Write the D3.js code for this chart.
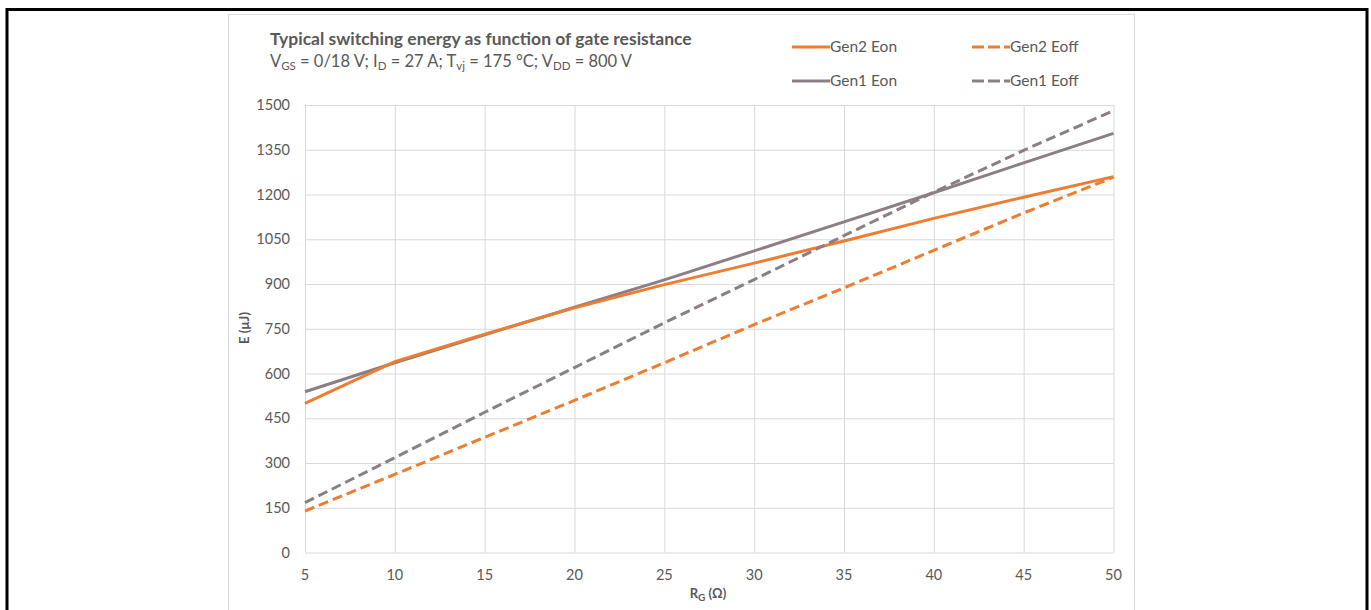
<!DOCTYPE html>
<html>
<head>
	<meta charset="UTF-8">
	<title>Switching energy vs gate resistance</title>
	<style>
		body { margin: 0; background: #fff; }
		svg text { font-family: Lato, "Open Sans", sans-serif; }
	</style>
</head>
<body>
<div id="chart"></div>

<script src="https://d3js.org/d3.v7.min.js"></script>
<script>
	// gate resistance (Ohm)
	var rg = [5, 10, 15, 20, 25, 30, 35, 40, 45, 50];

	// switching energy (uJ)
	var gen2Eon  = [500, 640, 732, 820, 898, 970, 1044, 1120, 1191, 1260];
	var gen2Eoff = [139, 262, 386, 510, 636, 764, 887, 1013, 1138, 1258];
	var gen1Eon  = [539, 636, 730, 822, 914, 1011, 1108, 1206, 1306, 1405];
	var gen1Eoff = [167, 318, 470, 620, 770, 915, 1062, 1208, 1348, 1481];

	var yTicks = [0, 150, 300, 450, 600, 750, 900, 1050, 1200, 1350, 1500];
	var xTicks = [5, 10, 15, 20, 25, 30, 35, 40, 45, 50];

	var W = 1371, H = 610;
	var orange = "#ED7D31", mauve = "#8C7E86";

	var series = [
		{ name: "Gen1 Eon",  values: gen1Eon,  color: mauve,  dash: null },
		{ name: "Gen2 Eoff", values: gen2Eoff, color: orange, dash: "10,5" },
		{ name: "Gen2 Eon",  values: gen2Eon,  color: orange, dash: null },
		{ name: "Gen1 Eoff", values: gen1Eoff, color: mauve,  dash: "10,5" }
	];

	var svg = d3.select("#chart").append("svg")
		.attr("width", W)
		.attr("height", H);

	/* outer frame + chart panel */
	svg.append("rect")
		.attr("x", 7).attr("y", 9.5)
		.attr("width", 1360).attr("height", 700)
		.attr("fill", "none").attr("stroke", "#000").attr("stroke-width", 3);

	svg.append("rect")
		.attr("x", 228.5).attr("y", 14.5)
		.attr("width", 906).attr("height", 700)
		.attr("fill", "#fff").attr("stroke", "#d9d9d9").attr("stroke-width", 1);

	var x = d3.scaleLinear().domain([5, 50]).range([305, 1113.5]);
	var y = d3.scaleLinear().domain([0, 1500]).range([552.5, 105]);

	/* gridlines */
	svg.append("g")
		.attr("transform", "translate(" + x(5) + ",0)")
		.call(d3.axisLeft(y).tickValues(yTicks).tickSize(-(x(50) - x(5))).tickFormat(""));
	svg.append("g")
		.attr("transform", "translate(0," + y(0) + ")")
		.call(d3.axisBottom(x).tickValues(xTicks).tickSize(-(y(0) - y(1500))).tickFormat(""));
	svg.selectAll(".domain").remove();
	svg.selectAll(".tick line").attr("stroke", "#d9d9d9").attr("stroke-width", 1);

	/* tick labels */
	svg.append("g").selectAll("text")
		.data(yTicks).enter().append("text")
		.attr("x", 290)
		.attr("y", function(d){ return y(d); })
		.attr("dy", "0.35em")
		.attr("text-anchor", "end")
		.attr("font-size", "14.5px")
		.attr("fill", "#595959")
		.text(function(d){ return d; });

	svg.append("g").selectAll("text")
		.data(xTicks).enter().append("text")
		.attr("x", function(d){ return x(d); })
		.attr("y", 580)
		.attr("text-anchor", "middle")
		.attr("font-size", "14.5px")
		.attr("fill", "#595959")
		.text(function(d){ return d; });

	/* axis titles */
	svg.append("text")
		.attr("transform", "translate(249,328) rotate(-90)")
		.attr("text-anchor", "middle")
		.attr("font-size", "13px")
		.attr("font-weight", "bold")
		.attr("fill", "#595959")
		.text("E (µJ)");

	var xt = svg.append("text")
		.attr("x", 708).attr("y", 598)
		.attr("text-anchor", "middle")
		.attr("font-size", "13px")
		.attr("font-weight", "bold")
		.attr("fill", "#595959");
	xt.append("tspan").text("R");
	xt.append("tspan").attr("font-size", "10px").attr("dy", 3).text("G");
	xt.append("tspan").attr("dy", -3).text(" (Ω)");

	/* lines */
	var line = d3.line()
		.x(function(d){ return x(d[0]); })
		.y(function(d){ return y(d[1]); });

	series.forEach(function(s){
		svg.append("path")
			.datum(rg.map(function(r, i){ return [r, s.values[i]]; }))
			.attr("d", line)
			.attr("fill", "none")
			.attr("stroke", s.color)
			.attr("stroke-width", 3)
			.attr("stroke-dasharray", s.dash);
	});

	/* title */
	svg.append("text")
		.attr("x", 270).attr("y", 45)
		.attr("font-size", "17.5px")
		.attr("font-weight", "bold")
		.attr("fill", "#595959")
		.text("Typical switching energy as function of gate resistance");

	var sub = svg.append("text")
		.attr("x", 270).attr("y", 67)
		.attr("font-size", "16.5px")
		.attr("fill", "#595959");
	var parts = [["V", "GS", " = 0/18 V; I"], [null, "D", " = 27 A; T"], [null, "vj", " = 175 °C; V"], [null, "DD", " = 800 V"]];
	parts.forEach(function(p){
		if (p[0]) sub.append("tspan").text(p[0]);
		sub.append("tspan").attr("font-size", "11.5px").attr("dy", 3).text(p[1]);
		sub.append("tspan").attr("dy", -3).text(p[2]);
	});

	/* legend */
	var legend = [
		{ name: "Gen2 Eon",  color: orange, dash: null,   lx: 792, ly: 47 },
		{ name: "Gen2 Eoff", color: orange, dash: "12,4", lx: 972, ly: 47 },
		{ name: "Gen1 Eon",  color: mauve,  dash: null,   lx: 792, ly: 81 },
		{ name: "Gen1 Eoff", color: mauve,  dash: "12,4", lx: 972, ly: 81 }
	];
	var lg = svg.append("g").selectAll("g").data(legend).enter().append("g");
	lg.append("line")
		.attr("x1", function(d){ return d.lx; })
		.attr("x2", function(d){ return d.lx + 38; })
		.attr("y1", function(d){ return d.ly; })
		.attr("y2", function(d){ return d.ly; })
		.attr("stroke", function(d){ return d.color; })
		.attr("stroke-width", 3)
		.attr("stroke-dasharray", function(d){ return d.dash; });
	lg.append("text")
		.attr("x", function(d){ return d.lx + 38; })
		.attr("y", function(d){ return d.ly; })
		.attr("dy", "0.35em")
		.attr("font-size", "15.5px")
		.attr("fill", "#595959")
		.text(function(d){ return d.name; });
</script>
</body>
</html>
